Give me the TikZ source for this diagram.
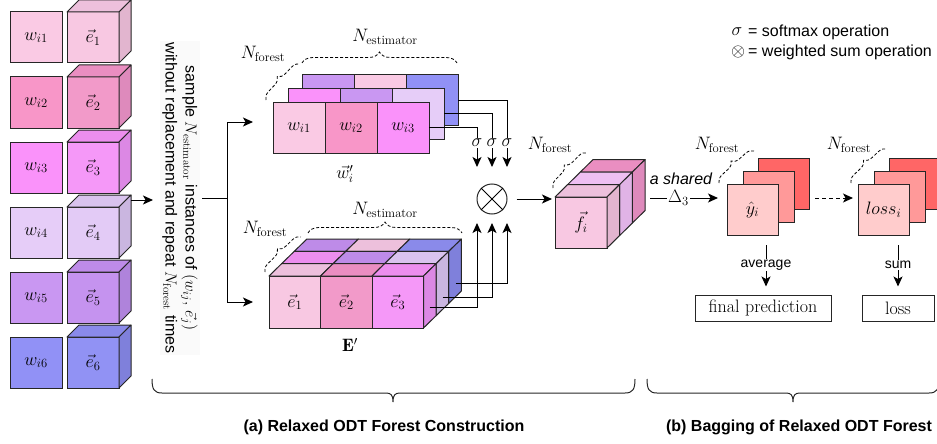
\documentclass[tikz,border=0pt]{standalone}
\usepackage{fix-cm}
\usepackage{fontspec}
\setsansfont{Liberation Sans}
\usetikzlibrary{arrows.meta,decorations.pathreplacing,calc}
\definecolor{ppW}{HTML}{FACAE4}\definecolor{ppF}{HTML}{F8C8E2}\definecolor{ppT}{HTML}{EDC0DC}\definecolor{ppS}{HTML}{E2B5CF}
\definecolor{pkW}{HTML}{F896C8}\definecolor{pkF}{HTML}{F29AC9}\definecolor{pkT}{HTML}{EA8EC1}\definecolor{pkS}{HTML}{DE8ABC}
\definecolor{mgW}{HTML}{FA92FA}\definecolor{mgF}{HTML}{F598F8}\definecolor{mgT}{HTML}{EC8EEE}\definecolor{mgS}{HTML}{DC88E4}
\definecolor{lvW}{HTML}{E6CDF8}\definecolor{lvF}{HTML}{E3CBF6}\definecolor{lvT}{HTML}{D9C3EE}\definecolor{lvS}{HTML}{CAB6E0}
\definecolor{puW}{HTML}{C997F2}\definecolor{puF}{HTML}{C593EF}\definecolor{puT}{HTML}{BE8BE8}\definecolor{puS}{HTML}{AF83DB}
\definecolor{blW}{HTML}{9191F6}\definecolor{blF}{HTML}{9192F4}\definecolor{blT}{HTML}{8A8AEA}\definecolor{blS}{HTML}{7F80DB}
\definecolor{orT}{HTML}{EEBFF2}\definecolor{orS}{HTML}{E0B3E6}
\definecolor{rdA}{HTML}{FFCCCC}\definecolor{rdB}{HTML}{FF9999}\definecolor{rdC}{HTML}{FF6666}
\newcommand\mysz{\fontsize{18}{21}\selectfont}
\newcommand\mysans{\sffamily\fontsize{16}{20}\selectfont}
\newcommand\topface[5]{\draw[face,fill=#5] ([shift={({#2*#3},{-#2*#4})}]#1.north west) -- ([shift={({(#2+1)*#3},{-(#2+1)*#4})}]#1.north west) -- ([shift={({(#2+1)*#3},{-(#2+1)*#4})}]#1.north east) -- ([shift={({#2*#3},{-#2*#4})}]#1.north east) -- cycle;}
\newcommand\sideface[5]{\draw[face,fill=#5] ([shift={({#2*#3},{-#2*#4})}]#1.north east) -- ([shift={({(#2+1)*#3},{-(#2+1)*#4})}]#1.north east) -- ([shift={({(#2+1)*#3},{-(#2+1)*#4})}]#1.south east) -- ([shift={({#2*#3},{-#2*#4})}]#1.south east) -- cycle;}
\newcommand\bracedown[4]{\draw[line width=1pt, black!85] (#1,#4) .. controls (#1,{#4+10}) and ({#1+2},{#4+14}) .. ({#1+10},{#4+14}) -- ({#3-7},{#4+14}) .. controls ({#3-2},{#4+14}) and (#3,{#4+16}) .. (#3,{#4+23}) .. controls (#3,{#4+16}) and ({#3+2},{#4+14}) .. ({#3+7},{#4+14}) -- ({#2-10},{#4+14}) .. controls ({#2-2},{#4+14}) and (#2,{#4+10}) .. (#2,#4);}
\begin{document}
\begin{tikzpicture}[x=1pt,y=-1pt,
  cell/.style={draw=black!85, line width=1pt, outer sep=0pt, inner sep=0pt, minimum width=52pt, minimum height=51pt, font=\mysz},
  cellE/.style={cell, minimum width=51.5pt, minimum height=52pt},
  face/.style={draw=black!85, line width=1pt, line join=round},
  conn/.style={line width=1pt},
  arr/.style={line width=1pt, -{Stealth[length=10pt,width=9pt,inset=2.5pt]}},
  sig/.style={fill=white, inner sep=1pt, font=\mysz},
  lab/.style={font=\mysz},
  dbrace/.style={decorate, decoration={brace, amplitude=#1}, dash pattern=on 3pt off 2pt, line width=0.8pt},
  box/.style={draw=black!85, line width=1pt, minimum height=26pt, inner sep=2pt, font=\mysz}]
\useasboundingbox (0,0) rectangle (937,444);
\clip (0,0) rectangle (937,444);
% left column
\foreach \k/\wc/\ec/\tc/\sc in {1/ppW/ppF/ppT/ppS,2/pkW/pkF/pkT/pkS,3/mgW/mgF/mgT/mgS,4/lvW/lvF/lvT/lvS,5/puW/puF/puT/puS,6/blW/blF/blT/blS}{
  \node[cell, fill=\wc] (w\k) at (36,{37.5+65*(\k-1)}) {$w_{i\k}$};
  \node[cell, fill=\ec] (e\k) at (93,{37.5+65*(\k-1)}) {$\vec{e}_{\k}$};
  \draw[face, fill=\tc] (e\k.north west) -- ++(12,-12) -- ++(52,0) -- (e\k.north east) -- cycle;
  \draw[face, fill=\sc] (e\k.north east) -- ++(12,-12) -- ++(0,51) -- (e\k.south east) -- cycle;
}
% sampling text
\node[rotate=-90, align=center, font=\mysans, fill=black!2, inner sep=2pt] (txt) at (180,198)
  {sample $N_{\mathrm{estimator}}$ instances of $(w_{ij},\,\vec{e}_j)$\\ without replacement and repeat $N_{\mathrm{forest}}$ times};
\coordinate (tin) at (153,200);
\draw[arr] ([shift={(12,-7)}]e4.north east) -- (tin);
\coordinate (tout) at (202,198);
\coordinate (br) at (227,198);
\coordinate (topin) at (253,122);
\coordinate (botin) at (253,302);
\draw[conn] (tout) -- (br);
\draw[arr] (br) |- (topin);
\draw[arr] (br) |- (botin);
% top block w'
\node[cell, fill=puW] (wc1) at (328,100) {};
\node[cell, fill=ppW] (wc2) at (380,100) {};
\node[cell, fill=blW] (wc3) at (432,100) {};
\node[cell, fill=mgW] (wb1) at (314,113.5) {};
\node[cell, fill=puW] (wb2) at (366,113.5) {};
\node[cell, fill=lvW] (wb3) at (418,113.5) {};
\node[cell, fill=ppW] (wa1) at (299,127.5) {$w_{i1}$};
\node[cell, fill=pkW] (wa2) at (351,127.5) {$w_{i2}$};
\node[cell, fill=mgW] (wa3) at (403,127.5) {$w_{i3}$};
\node[lab] (wl) at (345,174) {$\vec{w}'_i$};
\draw[dbrace=8pt] (266,100) -- (300,64);
\draw[dbrace=11pt] (302,63) -- (457,63);
\node[lab] (nf1) at (263,54) {$N_{\mathrm{forest}}$};
\node[lab] (ne1) at (385,37) {$N_{\mathrm{estimator}}$};
\node[sig] (s1) at (477,143) {$\sigma$};
\node[sig] (s2) at (492,143) {$\sigma$};
\node[sig] (s3) at (507,143) {$\sigma$};
\draw[conn] (wa3.east) -| (s1);
\draw[conn] (wb3.east) -| (s2);
\draw[conn] (wc3.east) -| (s3);
\coordinate (t1) at (477,167);
\coordinate (t2) at (492,167);
\coordinate (t3) at (507,167);
\draw[arr] (s1) -- (t1);
\draw[arr] (s2) -- (t2);
\draw[arr] (s3) -- (t3);
% otimes
\node[circle, draw=black!85, line width=1pt, minimum size=30pt, inner sep=0pt] (ot) at (492,199) {};
\draw[conn] (ot.north west) -- (ot.south east);
\draw[conn] (ot.north east) -- (ot.south west);
% bottom block E'
\node[cellE, fill=ppF] (ea1) at (294.75,302) {$\vec{e}_1$};
\node[cellE, fill=pkF] (ea2) at (346.25,302) {$\vec{e}_2$};
\node[cellE, fill=mgF] (ea3) at (397.75,302) {$\vec{e}_3$};
\topface{ea1}{2}{12.6}{12.3}{puT}\topface{ea2}{2}{12.6}{12.3}{ppT}\topface{ea3}{2}{12.6}{12.3}{blT}\sideface{ea3}{2}{12.6}{12.3}{blS}
\topface{ea1}{1}{12.6}{12.3}{mgT}\topface{ea2}{1}{12.6}{12.3}{puT}\topface{ea3}{1}{12.6}{12.3}{lvT}\sideface{ea3}{1}{12.6}{12.3}{lvS}
\topface{ea1}{0}{12.6}{12.3}{ppT}\topface{ea2}{0}{12.6}{12.3}{pkT}\topface{ea3}{0}{12.6}{12.3}{mgT}\sideface{ea3}{0}{12.6}{12.3}{mgS}
\node[lab] (el) at (350,345) {$\mathbf{E}'$};
\draw[dbrace=8pt] (265,272) -- (301,237);
\draw[dbrace=11pt] (308,233) -- (462,233);
\node[lab] (nf2) at (265,229) {$N_{\mathrm{forest}}$};
\node[lab] (ne2) at (385,210) {$N_{\mathrm{estimator}}$};
\coordinate (b1) at ([shift={(6,5)}]ea3.east);
\coordinate (b2) at ([shift={(19,-5)}]ea3.east);
\coordinate (b3) at ([shift={(32,-19)}]ea3.east);
\coordinate (u1) at (477,223);
\coordinate (u2) at (492,223);
\coordinate (u3) at (507,223);
\draw[arr] (b1) -| (u1);
\draw[arr] (b2) -| (u2);
\draw[arr] (b3) -| (u3);
% f_i block
\node[cell, fill=ppF] (fa) at (581,222.5) {$\vec{f}_i$};
\topface{fa}{2}{12.7}{12.5}{pkT}\sideface{fa}{2}{12.7}{12.5}{pkS}
\topface{fa}{1}{12.7}{12.5}{orT}\sideface{fa}{1}{12.7}{12.5}{orS}
\topface{fa}{0}{12.7}{12.5}{ppT}\sideface{fa}{0}{12.7}{12.5}{ppS}
\draw[arr, shorten <=9pt, shorten >=3pt] (ot.east) -- (ot.east -| fa.west);
\draw[dbrace=8pt] (553,188) -- (587,153);
\node[lab] (nf3) at (550,145) {$N_{\mathrm{forest}}$};
% y_i stack
\node[cell, minimum width=51pt, fill=rdC] (yc) at (783.5,183.5) {};
\node[cell, minimum width=51pt, fill=rdB] (yb) at (768.5,196.5) {};
\node[cell, minimum width=51pt, fill=rdA] (ya) at (752.5,209.5) {$\hat{y}_i$};
\draw[dbrace=8pt] (719,183) -- (754,151);
\node[lab] (nf4) at (717,145) {$N_{\mathrm{forest}}$};
\coordinate (fo) at (650,198);
\draw[arr, shorten >=9pt] (fo) -- (ya.west |- fo) node[pos=0.37, fill=white, inner sep=1pt, font=\mysz] {$\Delta_3$};
\node[font=\sffamily\itshape\fontsize{16}{19}\selectfont] (ash) at (681,179) {a shared};
% loss stack
\node[cell, minimum width=51pt, fill=rdC] (lc) at (914.5,183.5) {};
\node[cell, minimum width=51pt, fill=rdB] (lb) at (899.5,196.5) {};
\node[cell, minimum width=51pt, fill=rdA] (la) at (883.5,209.5) {$loss_i$};
\draw[dbrace=8pt] (851,183) -- (887,149);
\node[lab] (nf5) at (849,145) {$N_{\mathrm{forest}}$};
\draw[arr, dash pattern=on 4pt off 3pt, shorten <=6pt, shorten >=5pt] (yc.east |- fo) -- (la.west |- fo);
% outputs
\node[box, minimum width=136pt] (fp) at (763,308) {final prediction};
\node[box, minimum width=72pt] (lo) at (898,308) {loss};
\draw[arr, shorten <=10pt, shorten >=8pt] ([xshift=13.5pt]ya.south) -- ([xshift=13.5pt]ya.south |- fp.north) node[midway, fill=white, inner sep=1pt, font=\sffamily\fontsize{14}{16}\selectfont] {average};
\draw[arr, shorten <=10pt, shorten >=8pt] ([xshift=14.5pt]la.south) -- ([xshift=14.5pt]la.south |- lo.north) node[midway, fill=white, inner sep=1pt, font=\sffamily\fontsize{14}{16}\selectfont] {sum};
% legend
\node[font=\mysz] (lsig) at (737,32) {$\sigma$};
\node[anchor=west, inner sep=0pt, font=\mysans] (lsigt) at (748,32) {= softmax operation};
\node[font=\mysz] (lot) at (738,52) {$\otimes$};
\node[anchor=west, inner sep=0pt, font=\mysans] (lott) at (748,52) {= weighted sum operation};
% bottom braces
\bracedown{152}{635}{393}{379}
\bracedown{647}{939}{793}{379}
\node[font=\sffamily\bfseries\fontsize{16}{19}\selectfont] (ta) at (384,427) {(a) Relaxed ODT Forest Construction};
\node[font=\sffamily\bfseries\fontsize{16}{19}\selectfont] (tb) at (799,427) {(b) Bagging of Relaxed ODT Forest};
\end{tikzpicture}
\end{document}
